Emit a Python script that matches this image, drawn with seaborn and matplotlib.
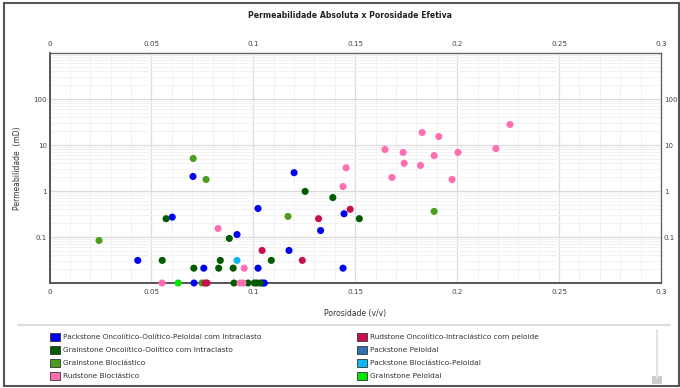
import matplotlib
matplotlib.use("Agg")
import matplotlib.pyplot as plt
import matplotlib.ticker as mticker
from matplotlib.patches import Rectangle
from matplotlib.lines import Line2D
import seaborn as sns
import pandas as pd

# facies names, in legend order
facies = [
    "Packstone Oncolítico-Oolítico-Peloidal com Intraclasto",
    "Grainstone Oncolítico-Oolítico com Intraclasto",
    "Grainstone Bioclástico",
    "Rudstone Bioclástico",
    "Rudstone Oncolítico-Intraclástico com peloide",
    "Packstone Peloidal",
    "Packstone Bioclástico-Peloidal",
    "Grainstone Peloidal",
]
colors = ["#0000f5", "#005a00", "#4c9d1c", "#ff6eb0",
          "#c8104a", "#2f72b0", "#10b4f0", "#00e600"]

# porosity (v/v) and permeability (mD) per facies
pk_onc_x = [0.0704, 0.0602, 0.092, 0.0433, 0.0757, 0.1023, 0.1023, 0.120,
            0.1445, 0.133, 0.1175, 0.144, 0.0709, 0.1044, 0.1054]
pk_onc_y = [2.07, 0.27, 0.113, 0.031, 0.021, 0.417, 0.021, 2.5,
            0.32, 0.138, 0.051, 0.021, 0.01, 0.01, 0.01]
gr_onc_x = [0.0572, 0.0882, 0.0553, 0.0838, 0.0708, 0.083, 0.0901, 0.1088,
            0.1254, 0.139, 0.152, 0.0905, 0.0974, 0.1005, 0.1017, 0.1033]
gr_onc_y = [0.25, 0.093, 0.031, 0.031, 0.021, 0.021, 0.021, 0.031,
            0.98, 0.72, 0.25, 0.01, 0.01, 0.01, 0.01, 0.01]
gr_bio_x = [0.0705, 0.0768, 0.0243, 0.117, 0.1887, 0.0748]
gr_bio_y = [5.1, 1.78, 0.084, 0.28, 0.36, 0.01]
rd_bio_x = [0.0827, 0.0955, 0.1455, 0.144, 0.2259, 0.1828, 0.191, 0.1646,
            0.219, 0.1735, 0.2004, 0.1887, 0.174, 0.182, 0.168, 0.1975,
            0.0552, 0.0935, 0.0949]
rd_bio_y = [0.153, 0.021, 3.2, 1.25, 27.9, 18.7, 15.3, 8.0,
            8.4, 6.9, 6.9, 5.9, 4.0, 3.6, 1.97, 1.78,
            0.01, 0.01, 0.01]
rd_onc_x = [0.1043, 0.1475, 0.132, 0.124, 0.0763, 0.0773]
rd_onc_y = [0.051, 0.40, 0.25, 0.031, 0.01, 0.01]
pk_pel_x = []
pk_pel_y = []
pk_biopel_x = [0.092]
pk_biopel_y = [0.031]
gr_pel_x = [0.0631]
gr_pel_y = [0.01]

series = [(pk_onc_x, pk_onc_y), (gr_onc_x, gr_onc_y), (gr_bio_x, gr_bio_y),
          (rd_bio_x, rd_bio_y), (rd_onc_x, rd_onc_y), (pk_pel_x, pk_pel_y),
          (pk_biopel_x, pk_biopel_y), (gr_pel_x, gr_pel_y)]
frames = []
for name, (xs, ys) in zip(facies, series):
    frames.append(pd.DataFrame({"Porosidade": xs, "Permeabilidade": ys, "Facies": name}))
df = pd.concat(frames, ignore_index=True)

sns.set_style("white")
plt.rcParams["font.family"] = ["DejaVu Sans"]

W, H = 680, 388
fig = plt.figure(figsize=(W / 100, H / 100), dpi=100)
ax = fig.add_axes([49.5 / W, 1 - 283 / H, (661 - 49.5) / W, (283 - 53) / H])

palette = dict(zip(facies, colors))
sns.scatterplot(data=df, x="Porosidade", y="Permeabilidade", hue="Facies",
                hue_order=facies, palette=palette, s=26, linewidth=0,
                legend=False, ax=ax, clip_on=False, zorder=3)

ax.set_yscale("log")
ax.set_xlim(0, 0.3)
ax.set_ylim(0.01, 1000)
ax.xaxis.set_major_locator(mticker.MultipleLocator(0.05))
ax.xaxis.set_minor_locator(mticker.MultipleLocator(0.01))
ax.xaxis.set_major_formatter(mticker.FuncFormatter(lambda v, p: f"{v:g}"))
ax.yaxis.set_major_locator(mticker.FixedLocator([0.1, 1, 10, 100]))
ax.yaxis.set_major_formatter(mticker.FuncFormatter(lambda v, p: f"{v:g}"))
ax.yaxis.set_minor_locator(mticker.LogLocator(base=10, subs=range(2, 10)))
ax.yaxis.set_minor_formatter(mticker.NullFormatter())
ax.grid(True, which="major", color="#dcdcdc", linewidth=0.9)
ax.grid(True, which="minor", color="#f2f2f2", linewidth=0.7)
ax.set_axisbelow(True)

ax.tick_params(which="both", length=0, labelsize=5.2, labelcolor="#444444",
               top=True, labeltop=True, right=True, labelright=True, pad=4)
ax.tick_params(axis="y", pad=3, labelsize=5.0)
ax.tick_params(axis="y", which="major", pad=3)
for lbl in ax.get_yticklabels(which="major"):
    pass
for side in ["left", "bottom"]:
    ax.spines[side].set_color("#555555")
    ax.spines[side].set_linewidth(1.4)
for side in ["top", "right"]:
    ax.spines[side].set_color("#666666")
    ax.spines[side].set_linewidth(1.0)
# right-hand labels sit a little closer to the frame
for t in ax.yaxis.get_major_ticks():
    t.label2.set_x(1.0)
    t.set_pad(2)

ax.set_xlabel("Porosidade (v/v)", fontsize=5.5, color="#333333")
ax.set_ylabel("Permeabilidade  (mD)", fontsize=5.5, color="#333333")
ax.xaxis.set_label_coords(0.5, -(309 - 283) / 230)
ax.yaxis.set_label_coords(-(49.5 - 22) / 611.5, 0.5)

fig.text(0.515, 1 - 15 / H, "Permeabilidade Absoluta x Porosidade Efetiva",
         ha="center", va="center", fontsize=5.6, fontweight="bold", color="#222222")

# frame round the whole figure
fig.add_artist(Rectangle((4 / W, 2 / H), 675 / W, 383 / H, transform=fig.transFigure,
                         fill=False, edgecolor="#555555", linewidth=1.5, zorder=0))
# separator above legend
fig.add_artist(Line2D([18 / W, 670 / W], [1 - 325 / H] * 2, transform=fig.transFigure,
                      color="#dddddd", linewidth=1.5))
# scroll bar
fig.add_artist(Line2D([657 / W] * 2, [1 - 330 / H, 1 - 378 / H], transform=fig.transFigure,
                      color="#e2e2e2", linewidth=1.5))
fig.add_artist(Rectangle((652 / W, 1 - 384 / H), 10 / W, 8 / H, transform=fig.transFigure,
                         facecolor="#cccccc", edgecolor="none"))

# legend, two columns of four
rows = [337, 350, 363, 376]
col_sq = [50, 357]
for i, (name, c) in enumerate(zip(facies, colors)):
    col, row = divmod(i, 4)
    yy = rows[row]
    fig.add_artist(Rectangle((col_sq[col] / W, 1 - (yy + 4) / H), 10 / W, 8 / H,
                             transform=fig.transFigure, facecolor=c,
                             edgecolor="#333333", linewidth=0.6))
    fig.text((col_sq[col] + 13) / W, 1 - yy / H, name, ha="left", va="center",
             fontsize=5.3, color="#333333")

fig.savefig("out.png", dpi=100)
